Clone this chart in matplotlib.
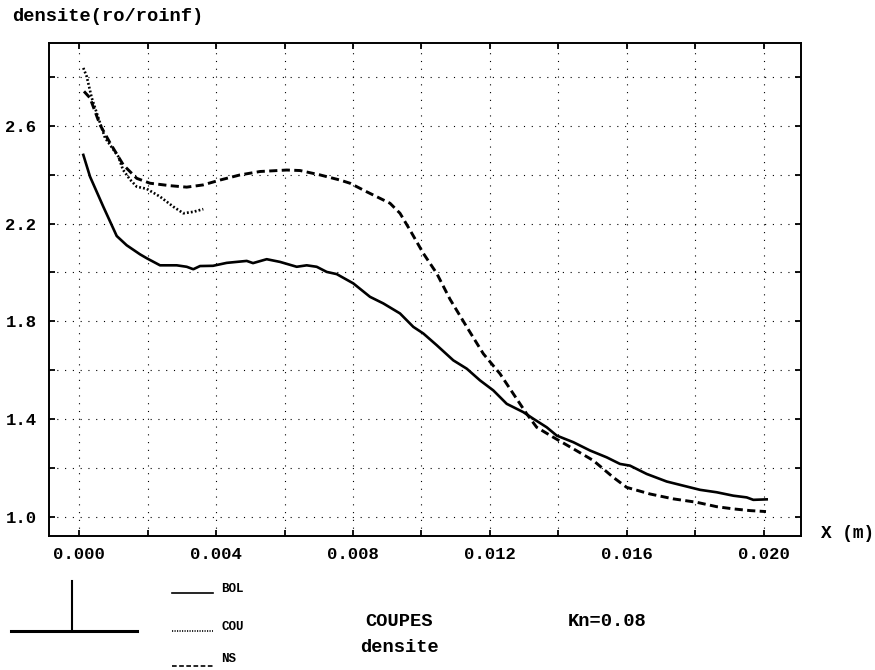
import matplotlib
matplotlib.use("Agg")
import matplotlib.pyplot as plt
from matplotlib.lines import Line2D
from matplotlib.ticker import FixedLocator

# --- data ---
bol_x = [0.000117, 0.000313, 0.000701, 0.001093, 0.001385, 0.001774, 0.00197, 0.002359,
         0.002847, 0.003139, 0.003332, 0.003528, 0.003908, 0.004308, 0.004893, 0.005077,
         0.005477, 0.005866, 0.006354, 0.006646, 0.006938, 0.007231, 0.007523, 0.008008,
         0.008496, 0.008885, 0.009373, 0.009762, 0.010054, 0.010446, 0.010931, 0.011323,
         0.011711, 0.0121, 0.012492, 0.012977, 0.013269, 0.013661, 0.013953, 0.014438,
         0.014926, 0.015414, 0.015803, 0.016095, 0.016583, 0.017168, 0.017653, 0.018141,
         0.018629, 0.019115, 0.019506, 0.019699, 0.02009]
bol_y = [2.481, 2.392, 2.269, 2.149, 2.111, 2.074, 2.058, 2.029,
         2.029, 2.023, 2.013, 2.026, 2.027, 2.039, 2.047, 2.038,
         2.054, 2.043, 2.023, 2.029, 2.023, 2.002, 1.993, 1.955,
         1.900, 1.873, 1.832, 1.777, 1.750, 1.702, 1.640, 1.606,
         1.558, 1.517, 1.462, 1.428, 1.401, 1.366, 1.332, 1.305,
         1.271, 1.243, 1.216, 1.209, 1.175, 1.144, 1.127, 1.110,
         1.100, 1.086, 1.079, 1.069, 1.071]

cou_x = [0.000117, 0.000216, 0.000362, 0.000605, 0.000751, 0.00114, 0.001277, 0.001482,
         0.001678, 0.00197, 0.002359, 0.002747, 0.00304, 0.003332, 0.003624]
cou_y = [2.837, 2.802, 2.715, 2.612, 2.551, 2.474, 2.420, 2.380,
         2.351, 2.342, 2.310, 2.269, 2.242, 2.248, 2.259]

ns_x = [0.000137, 0.000313, 0.000605, 0.000898, 0.001286, 0.001678, 0.002066, 0.002651,
        0.003139, 0.003615, 0.004112, 0.004697, 0.005281, 0.006062, 0.00645, 0.007035,
        0.007619, 0.007912, 0.0084, 0.009081, 0.009373, 0.009666, 0.010054, 0.010446,
        0.010835, 0.011323, 0.011808, 0.012296, 0.012685, 0.013076, 0.013368, 0.013854,
        0.014438, 0.015023, 0.015607, 0.015999, 0.01668, 0.017361, 0.018045, 0.018629,
        0.019115, 0.019603, 0.02007]
ns_y = [2.741, 2.714, 2.604, 2.530, 2.440, 2.385, 2.365, 2.355,
        2.349, 2.358, 2.378, 2.399, 2.413, 2.419, 2.417, 2.399,
        2.378, 2.365, 2.330, 2.283, 2.242, 2.173, 2.078, 1.996,
        1.890, 1.777, 1.667, 1.585, 1.503, 1.421, 1.366, 1.325,
        1.278, 1.230, 1.161, 1.120, 1.093, 1.073, 1.059, 1.041,
        1.032, 1.025, 1.021]

x_major = [0.000, 0.004, 0.008, 0.012, 0.016, 0.020]
x_major_labels = ["0.000", "0.004", "0.008", "0.012", "0.016", "0.020"]
x_minor = [0.002, 0.006, 0.010, 0.014, 0.018]
y_major = [1.0, 1.4, 1.8, 2.2, 2.6]
y_major_labels = ["1.0", "1.4", "1.8", "2.2", "2.6"]
y_minor = [1.2, 1.6, 2.0, 2.4, 2.8]

FONT = "Liberation Mono"
W, H = 875, 670

COU_STYLE = (0, (0.7, 0.8))
NS_STYLE = (0, (2.8, 1.5))


def fx(px):
    return px / W


def fy(py):
    return 1 - py / H


fig = plt.figure(figsize=(W / 100, H / 100), dpi=100)
ax = fig.add_axes([fx(49), fy(536), fx(801) - fx(49), fy(43) - fy(536)])

ax.plot(bol_x, bol_y, color="black", lw=1.9, solid_joinstyle="round")
ax.plot(cou_x, cou_y, color="black", lw=1.9, linestyle=COU_STYLE)
ax.plot(ns_x, ns_y, color="black", lw=2.1, linestyle=NS_STYLE)

ax.set_xlim(-0.000886, 0.021093)
ax.set_ylim(0.921, 2.939)

ax.xaxis.set_major_locator(FixedLocator(x_major))
ax.xaxis.set_minor_locator(FixedLocator(x_minor))
ax.set_xticklabels(x_major_labels)
ax.yaxis.set_major_locator(FixedLocator(y_major))
ax.yaxis.set_minor_locator(FixedLocator(y_minor))
ax.set_yticklabels(y_major_labels)

ax.grid(True, which="both", color="black", lw=0.8, linestyle=(0, (1, 6)))
ax.tick_params(which="both", direction="in", length=4, width=1.3,
               top=True, right=True)
ax.tick_params(axis="x", pad=8)
ax.tick_params(axis="y", pad=9)
for lab in ax.get_xticklabels() + ax.get_yticklabels():
    lab.set_fontfamily(FONT)
    lab.set_fontweight("bold")
    lab.set_fontsize(12.4)
for sp in ax.spines.values():
    sp.set_linewidth(1.4)

txt = dict(family=FONT, weight="bold", color="black")
fig.text(fx(11.7), fy(16.7), "densite(ro/roinf)", ha="left", va="center", fontsize=13.5, **txt)
fig.text(fx(821), fy(533), "X (m)", ha="left", va="center", fontsize=12.8, **txt)

# axis symbol in lower left
fig.add_artist(Line2D([fx(71.7), fx(71.7)], [fy(580.7), fy(631)], color="black", lw=1.5))
fig.add_artist(Line2D([fx(10.7), fx(136.7)], [fy(631), fy(631)], color="black", lw=2.2))

# legend
legend_items = [("BOL", "-", 592.7, 589), ("COU", COU_STYLE, 631, 627), ("NS", NS_STYLE, 666, 659)]
for name, ls, ly, ty in legend_items:
    fig.add_artist(Line2D([fx(171.7), fx(213.3)], [fy(ly), fy(ly)], color="black", lw=1.2, linestyle=ls))
    fig.text(fx(221), fy(ty), name, ha="left", va="center", fontsize=9, **txt)

fig.text(fx(399), fy(621.7), "COUPES", ha="center", va="center", fontsize=13.5, **txt)
fig.text(fx(399.5), fy(648), "densite", ha="center", va="center", fontsize=13.5, **txt)
fig.text(fx(568), fy(622), "Kn=0.08", ha="left", va="center", fontsize=13.5, **txt)

fig.savefig("out.png", dpi=100)
